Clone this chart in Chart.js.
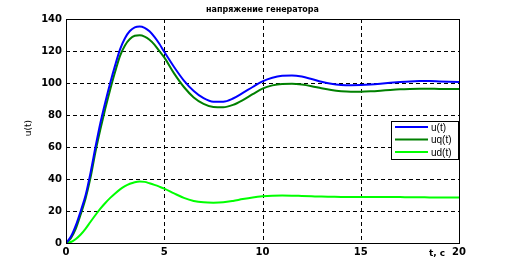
<!DOCTYPE html>
<html><head><meta charset="utf-8">
<script src="https://cdn.jsdelivr.net/npm/chart.js@4/dist/chart.umd.min.js"></script>
<style>html,body{margin:0;padding:0;background:#fff;}canvas{display:block;}</style>
</head><body>
<canvas id="c" width="507" height="264"></canvas>
<script>
const titleText = "напряжение генератора";
const xLabel = "t, c";
const yLabel = "u(t)";
const seriesNames = ["u(t)", "uq(t)", "ud(t)"];
const seriesColors = ["#0000ff", "#008000", "#00ff00"];
const t = [0,0.25,0.5,0.75,1,1.25,1.5,1.75,2,2.25,2.5,2.75,3,3.25,3.5,3.75,4,4.25,4.5,4.75,5,5.5,6,6.5,7,7.5,8,8.5,9,9.5,10,10.5,11,11.5,12,12.5,13,13.5,14,14.5,15,15.5,16,16.5,17,17.5,18,18.5,19,19.5,20];
const u  = [0,4,11,20,30,44,60,75,88,100,111,121,128,132.5,134.8,135.3,134.5,132.3,128.8,124.5,119.5,110,101.5,95,90.5,88.3,88.3,90.3,93.8,97.5,101,103.3,104.5,104.7,104,102.5,100.8,99.5,98.8,98.6,98.7,99,99.5,100.1,100.6,101,101.2,101.2,101,100.8,100.6];
const uq = [0,3,9,18,28,41,57,71,84,96,107,117,123.5,127.5,129.5,129.8,129,127,124,120,116,106,97.5,91,87,85,84.8,86.3,89.3,93,96.5,98.5,99.4,99.5,99,98,96.7,95.6,94.9,94.6,94.6,94.8,95.2,95.7,96.1,96.3,96.4,96.4,96.3,96.3,96.2];
const ud = [0,0.6,2.5,5.3,9,13.3,17.5,21.5,25,28.2,31,33.5,35.5,37,38,38.4,38.2,37.3,36.3,35.2,34,31,28.2,26.3,25.4,25.2,25.4,26.3,27.5,28.5,29.2,29.6,29.7,29.6,29.4,29.2,29,28.9,28.8,28.8,28.8,28.8,28.8,28.7,28.7,28.6,28.6,28.5,28.5,28.4,28.4];
const xMin = 0, xMax = 20, xStep = 5;
const yMin = 0, yMax = 140, yStep = 20;

const toPts = arr => arr.map((v, i) => ({x: t[i], y: v}));

const decor = {
  id: 'decor',
  beforeDatasetsDraw(chart) {
    const {ctx, chartArea: a, scales: {x, y}} = chart;
    ctx.save();
    ctx.strokeStyle = '#000';
    ctx.lineWidth = 1;
    ctx.setLineDash([4, 3]);
    ctx.beginPath();
    for (let v = yMin + yStep; v < yMax; v += yStep) {
      const py = Math.round(y.getPixelForValue(v)) + 0.5;
      ctx.moveTo(a.left, py); ctx.lineTo(a.right, py);
    }
    for (let v = xMin + xStep; v < xMax; v += xStep) {
      const px = Math.round(x.getPixelForValue(v)) + 0.5;
      ctx.moveTo(px, a.top); ctx.lineTo(px, a.bottom);
    }
    ctx.stroke();
    ctx.restore();
  },
  afterDatasetsDraw(chart) {
    const {ctx, chartArea: a} = chart;
    ctx.save();
    ctx.setLineDash([]);
    ctx.strokeStyle = '#000';
    ctx.lineWidth = 1;
    ctx.strokeRect(Math.round(a.left) + 0.5, Math.round(a.top) + 0.5, Math.round(a.right - a.left), Math.round(a.bottom - a.top));
    // title
    ctx.fillStyle = '#000';
    ctx.font = 'bold 8px "DejaVu Sans"';
    ctx.textAlign = 'center'; ctx.textBaseline = 'middle';
    ctx.fillText(titleText, (a.left + a.right) / 2, 10);
    // x label
    ctx.font = 'bold 9px "DejaVu Sans"';
    ctx.fillText(xLabel, 437, 254);
    // y label
    ctx.save();
    ctx.translate(29, 128);
    ctx.rotate(-Math.PI / 2);
    ctx.font = '9px "DejaVu Sans"';
    ctx.fillText(yLabel, 0, 0);
    ctx.restore();
    // legend
    const lx = 391, ly = 121, lw = 67, lh = 38;
    ctx.fillStyle = '#fff';
    ctx.fillRect(lx, ly, lw, lh);
    ctx.strokeStyle = '#000';
    ctx.strokeRect(lx + 0.5, ly + 0.5, lw, lh);
    chart.data.datasets.forEach((ds, i) => {
      const yy = 127 + i * 12.5;
      ctx.strokeStyle = ds.borderColor;
      ctx.lineWidth = 2;
      ctx.beginPath();
      ctx.moveTo(395, yy); ctx.lineTo(428, yy);
      ctx.stroke();
      ctx.fillStyle = '#000';
      ctx.font = '10px "Liberation Sans"';
      ctx.textAlign = 'left';
      ctx.fillText(ds.label, 431, yy + 1);
    });
    ctx.restore();
  }
};

new Chart(document.getElementById('c'), {
  type: 'line',
  data: {
    datasets: [
      {label: seriesNames[0], data: toPts(u), borderColor: seriesColors[0]},
      {label: seriesNames[1], data: toPts(uq), borderColor: seriesColors[1]},
      {label: seriesNames[2], data: toPts(ud), borderColor: seriesColors[2]}
    ].map(d => Object.assign(d, {borderWidth: 2, pointRadius: 0, fill: false, cubicInterpolationMode: 'monotone'}))
  },
  options: {
    responsive: false,
    animation: false,
    layout: {padding: {top: 19, right: 48, left: 0, bottom: 0}},
    plugins: {legend: {display: false}, title: {display: false}, tooltip: {enabled: false}},
    scales: {
      x: {
        type: 'linear', min: xMin, max: xMax,
        grid: {display: false, drawTicks: false},
        border: {display: false},
        ticks: {stepSize: xStep, color: '#000', font: {family: 'DejaVu Sans', weight: 'bold', size: 10}, padding: 3, maxRotation: 0},
        afterFit: s => { s.height = 21; }
      },
      y: {
        min: yMin, max: yMax,
        grid: {display: false, drawTicks: false},
        border: {display: false},
        ticks: {stepSize: yStep, color: '#000', font: {family: 'DejaVu Sans', weight: 'bold', size: 10}, padding: 4},
        afterFit: s => { s.width = 66; }
      }
    }
  },
  plugins: [decor]
});
</script>
</body></html>
